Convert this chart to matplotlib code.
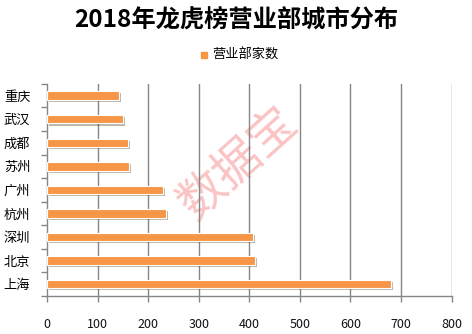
import matplotlib.pyplot as plt
import matplotlib.patheffects as pe

plt.rcParams['font.family'] = ['Noto Sans CJK SC', 'DejaVu Sans']

# Cities from bottom to top
cities = ['上海', '北京', '深圳', '杭州', '广州', '苏州', '成都', '武汉', '重庆']
counts = [681, 411, 408, 235, 230, 162, 160, 150, 142]
xticks = [0, 100, 200, 300, 400, 500, 600, 700, 800]

bar_color = '#F79646'
grid_color = '#868686'

fig = plt.figure(figsize=(4.72, 3.34), dpi=100)
ax = fig.add_axes([0.0996, 0.114, 0.857, 0.635])

# watermark, under the grid lines
ax.text(0.504, 0.509, '数据宝', ha='center', va='center', fontsize=34,
        fontweight='light', rotation=42, color='#fbc4c4',
        transform=fig.transFigure, zorder=1)

for x in xticks[1:]:
    ax.axvline(x, color=grid_color, lw=1, zorder=2)

ypos = list(range(len(cities)))
bars = ax.barh(ypos, counts, height=0.36, color=bar_color,
               edgecolor='white', linewidth=0.8, zorder=3)
for b in bars:
    b.set_path_effects([pe.SimplePatchShadow(offset=(1.5, -1.5), alpha=0.35),
                        pe.Normal()])

ax.set_xlim(0, 800)
ax.set_ylim(-0.5, len(cities) - 0.5)
ax.set_xticks(xticks)
ax.set_xticklabels([str(x) for x in xticks], fontsize=9, color='#111111')
ax.set_yticks(ypos)
ax.set_yticklabels(cities, fontsize=9.5)
ax.set_yticks([i - 0.5 for i in range(len(cities) + 1)], minor=True)

ax.tick_params(axis='x', length=4, width=1, color=grid_color, pad=12)
ax.tick_params(axis='y', which='major', length=0, pad=12)
ax.tick_params(axis='y', which='minor', length=4, width=1, color=grid_color)

for side in ['top', 'right']:
    ax.spines[side].set_visible(False)
for side in ['left', 'bottom']:
    ax.spines[side].set_color(grid_color)
    ax.spines[side].set_linewidth(1)

fig.text(0.5, 0.938, '2018年龙虎榜营业部城市分布', ha='center', va='center',
         fontsize=17.5, fontweight='bold')

# legend
fig.patches.append(plt.Rectangle((0.426, 0.825), 0.0125, 0.018,
                                 transform=fig.transFigure,
                                 color=bar_color, figure=fig))
fig.text(0.449, 0.835, '营业部家数', ha='left', va='center', fontsize=9.5)

fig.savefig('out.png', dpi=100)
